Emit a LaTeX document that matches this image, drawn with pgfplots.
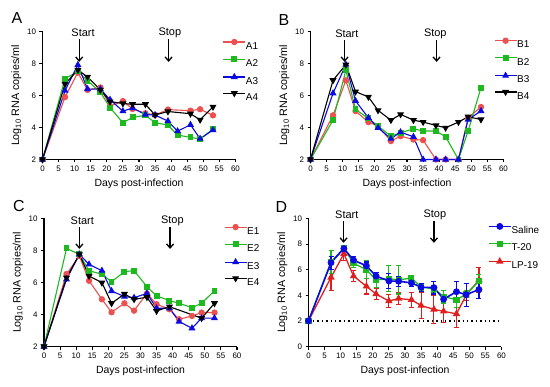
\documentclass[border=0pt]{standalone}
\usepackage{fontspec}
\setmainfont{Liberation Sans}
\usepackage{pgfplots}
\pgfplotsset{compat=1.18}
\usepackage{pgfplotstable}
\usetikzlibrary{arrows.meta}

\definecolor{cred}{RGB}{236,80,80}
\definecolor{cgreen}{RGB}{30,185,30}
\definecolor{cblue}{RGB}{10,10,225}
\definecolor{dred}{RGB}{225,30,30}

\pgfplotstableread{
d m e
0 2 0
7 6.55 0.5
11 7.65 0.2
14 6.75 0.3
18 6.3 0.3
21 5.5 0.3
25 5.12 0.6
28 5.1 0.4
32 4.97 0.3
35 4.63 0.3
39 4.6 0.5
42 3.7 0.2
46 4.28 0.8
49 4.05 0.9
53 4.45 0.7
}\saline
\pgfplotstableread{
d m e
0 2 0
7 6.6 0.9
11 7.7 0.2
14 6.5 0.3
18 6.0 0.7
21 5.2 0.6
25 5.3 1.0
28 5.2 1.1
32 5.35 0.2
35 4.65 0.3
39 4.5 0.3
42 3.9 0.5
46 3.65 0.6
49 4.1 0.3
53 5.1 0.5
}\ttwenty
\pgfplotstableread{
d m e
0 2 0
7 5.4 1.0
11 7.25 0.5
14 5.5 0.45
18 4.7 0.6
21 4.1 0.4
25 3.55 0.5
28 3.75 0.5
32 3.65 0.6
35 3.2 1.0
39 2.9 1.1
42 2.75 0.9
46 2.55 1.1
49 4.0 0.4
53 5.2 1.0
}\lpnineteen

\pgfplotsset{
  panel/.style={
    scale only axis, width=193bp, height=128bp, anchor=south west,
    axis lines*=left, axis line style={line width=1.1bp, black},
    xmin=0, xmax=60, xtick={0,5,...,60},
    ymin=2, ymax=10, ytick={2,4,...,10},
    tick align=outside, major tick length=3bp,
    tick style={line width=1.1bp, black},
    tick label style={font=\fontsize{8}{9}\selectfont},
    /pgf/number format/assume math mode=true,
    xlabel={Days post-infection},
    ylabel={Log\textsubscript{10} RNA copies/ml},
    xlabel style={font=\fontsize{10.5}{12}\selectfont, at={(axis description cs:0.5,-0.19)}, anchor=center},
    ylabel style={font=\fontsize{10.8}{12}\selectfont, at={(axis description cs:-0.135,0.5)}, anchor=center},
    clip=false,
    legend cell align=left,
    legend style={draw=none, fill=none, inner sep=0pt, anchor=north west,
      font=\fontsize{10}{12}\selectfont, row sep=7.6bp,
      nodes={inner sep=0pt, text height=7.2bp, text depth=0pt},
      /tikz/every even column/.append style={column sep=4bp}},
    legend image code/.code={\draw[mark repeat=2,mark phase=2,##1] plot coordinates {(0bp,3.6bp) (11bp,3.6bp) (22bp,3.6bp)};},
  },
  s1/.style={cred, line width=1.1bp, mark=*, mark size=2.6bp, mark options={solid, fill=cred}},
  s2/.style={cgreen, line width=1.1bp, mark=square*, mark size=2.4bp, mark options={solid, fill=cgreen}},
  s3/.style={cblue, line width=1.1bp, mark=triangle*, mark size=3bp, mark options={solid, fill=cblue}},
  s4/.style={black, line width=1.1bp, mark=triangle*, mark size=3bp, mark options={solid, fill=black, rotate=180}},
}

\newcommand{\startstop}[4]{%
  \node[font=\fontsize{11}{13}\selectfont] at (axis cs:#1,#4) {Start};
  \draw[line width=1.3bp, -{Straight Barb[length=4bp,width=7bp,line width=1.3bp]}] (axis cs:#2,#4-0.38) -- (axis cs:#2,8.1);
  \node[font=\fontsize{11}{13}\selectfont] at (axis cs:#3,#4) {Stop};
  \draw[line width=1.3bp, -{Straight Barb[length=4bp,width=7bp,line width=1.3bp]}] (axis cs:39.2,#4-0.38) -- (axis cs:39.2,8.1);
}

\begin{document}
\begin{tikzpicture}
\useasboundingbox (0,0) rectangle (550bp,387bp);

% ---------- A ----------
\begin{axis}[panel, at={(42.5bp,227.5bp)},
  legend style={at={(axis description cs:0.933,0.94)}}]
\addplot[s1] coordinates {(0,2)(7,5.9)(11,7.43)(14,6.35)(18,6.5)(21,5.34)(25,5.65)(28,5.16)(32,4.89)(35,4.78)(39,5.12)(46,5.05)(49,5.14)(53,4.76)};
\addplot[s2] coordinates {(0,2)(7,7.05)(11,7.5)(14,6.93)(18,6.2)(21,5.24)(25,4.3)(28,4.63)(32,4.76)(35,4.3)(39,4.15)(42,3.53)(46,3.38)(49,3.28)(53,3.9)};
\addplot[s3] coordinates {(0,2)(7,6.3)(11,7.91)(14,6.4)(18,6.4)(21,5.74)(25,5.02)(28,5.22)(32,4.81)(35,4.78)(39,4.4)(42,3.77)(46,4.17)(49,3.3)(53,3.84)};
\addplot[s4] coordinates {(0,2)(7,6.72)(11,7.6)(14,7.16)(18,6.35)(21,5.62)(25,5.5)(28,5.45)(32,5.45)(35,4.78)(39,5.0)(46,4.86)(49,4.48)(53,5.29)};
\legend{A1,A2,A3,A4}
\startstop{12.6}{11.4}{39.6}{9.9}
\end{axis}
\node[font=\fontsize{16}{18}\selectfont] at (17bp,369bp) {A};

% ---------- B ----------
\begin{axis}[panel, at={(310.5bp,227.5bp)},
  legend style={at={(axis description cs:0.95,0.95)}}]
\addplot[s1] coordinates {(0,2)(7,4.76)(11,6.95)(14,5.03)(18,4.34)(21,4.09)(25,3.15)(28,3.46)(32,3.25)(35,3.21)(39,2)(42,2)(46,2)(49,4.61)(53,5.28)};
\addplot[s2] coordinates {(0,2)(7,4.46)(11,7.58)(14,5.13)(18,4.57)(21,4.09)(25,3.46)(28,3.67)(32,3.92)(35,3.78)(39,3.78)(42,3.42)(46,2)(49,3.78)(53,6.49)};
\addplot[s3] coordinates {(0,2)(7,6.14)(11,7.93)(14,5.66)(18,4.61)(21,3.98)(25,3.3)(28,3.71)(32,3.42)(35,2)(39,2)(42,2)(46,2)(49,4.5)(53,5.03)};
\addplot[s4] coordinates {(0,2)(7,6.95)(11,7.93)(14,6.24)(18,5.91)(21,5.07)(25,4.46)(28,4.82)(32,4.46)(35,4.34)(39,4.13)(42,3.98)(46,4.34)(49,4.67)(53,4.5)};
\legend{B1,B2,B3,B4}
\startstop{11.3}{10.6}{38.8}{9.85}
\end{axis}
\node[font=\fontsize{16}{18}\selectfont] at (284bp,367bp) {B};

% ---------- C ----------
\begin{axis}[panel, at={(44bp,40.5bp)},
  legend style={at={(axis description cs:0.932,0.955)}}]
\addplot[s1] coordinates {(0,2)(7,6.53)(11,7.65)(14,6.11)(18,4.95)(21,4.14)(25,4.7)(28,4.24)(32,5.32)(35,4.64)(39,4.33)(42,3.7)(46,3.91)(49,4.12)(53,4.12)};
\addplot[s2] coordinates {(0,2)(7,8.13)(11,7.76)(14,6.74)(18,6.51)(21,6.05)(25,6.68)(28,6.74)(32,5.74)(35,5.16)(39,4.87)(42,4.7)(46,4.43)(49,4.7)(53,5.49)};
\addplot[s3] coordinates {(0,2)(7,6.2)(11,7.76)(14,7.13)(18,6.74)(21,5.47)(25,5.12)(28,5.05)(32,5.32)(35,4.39)(39,4.39)(42,3.56)(46,3.14)(49,3.77)(53,3.77)};
\addplot[s4] coordinates {(0,2)(7,6.3)(11,7.76)(14,6.41)(18,5.99)(21,4.7)(25,5.28)(28,4.95)(32,5.08)(35,4.22)(39,4.49)(49,3.77)(53,4.7)};
\legend{E1,E2,E3,E4}
\startstop{11.9}{11.0}{39.9}{9.86}
\end{axis}
\node[font=\fontsize{16}{18}\selectfont] at (19bp,181bp) {C};

% ---------- D ----------
\begin{axis}[panel, at={(308.5bp,40.5bp)}, ymin=0, ytick={0,2,...,10},
  reverse legend,
  legend style={at={(axis description cs:0.929,0.96)}}]
\addplot[black, line width=1.4bp, dash pattern=on 1.4bp off 3bp, forget plot] coordinates {(0,2)(60,2)};
\addplot[dred, line width=1.3bp, mark=triangle*, mark size=3bp, mark options={solid, fill=dred},
  error bars/.cd, y dir=both, y explicit, error bar style={line width=1.1bp},
  error mark options={rotate=90, mark size=2.5bp, line width=1.1bp}]
  table[x=d, y=m, y error=e] {\lpnineteen};
\addplot[cgreen, line width=1.3bp, mark=square*, mark size=2.4bp, mark options={solid, fill=cgreen},
  error bars/.cd, y dir=both, y explicit, error bar style={line width=1.1bp},
  error mark options={rotate=90, mark size=2.5bp, line width=1.1bp}]
  table[x=d, y=m, y error=e] {\ttwenty};
\addplot[cblue, line width=1.6bp, mark=*, mark size=2.6bp, mark options={solid, fill=cblue},
  error bars/.cd, y dir=both, y explicit, error bar style={line width=1.1bp},
  error mark options={rotate=90, mark size=2.5bp, line width=1.1bp}]
  table[x=d, y=m, y error=e] {\saline};
\legend{LP-19,T-20,Saline}
\node[font=\fontsize{11}{13}\selectfont] at (axis cs:11.9,10.3) {Start};
\draw[line width=1.3bp, -{Straight Barb[length=4bp,width=7bp,line width=1.3bp]}] (axis cs:10.9,9.8) -- (axis cs:10.9,8.1);
\node[font=\fontsize{11}{13}\selectfont] at (axis cs:39.3,10.3) {Stop};
\draw[line width=1.3bp, -{Straight Barb[length=4bp,width=7bp,line width=1.3bp]}] (axis cs:39,9.8) -- (axis cs:39,8.1);
\end{axis}
\node[font=\fontsize{16}{18}\selectfont] at (281.5bp,180bp) {D};
\end{tikzpicture}
\end{document}
